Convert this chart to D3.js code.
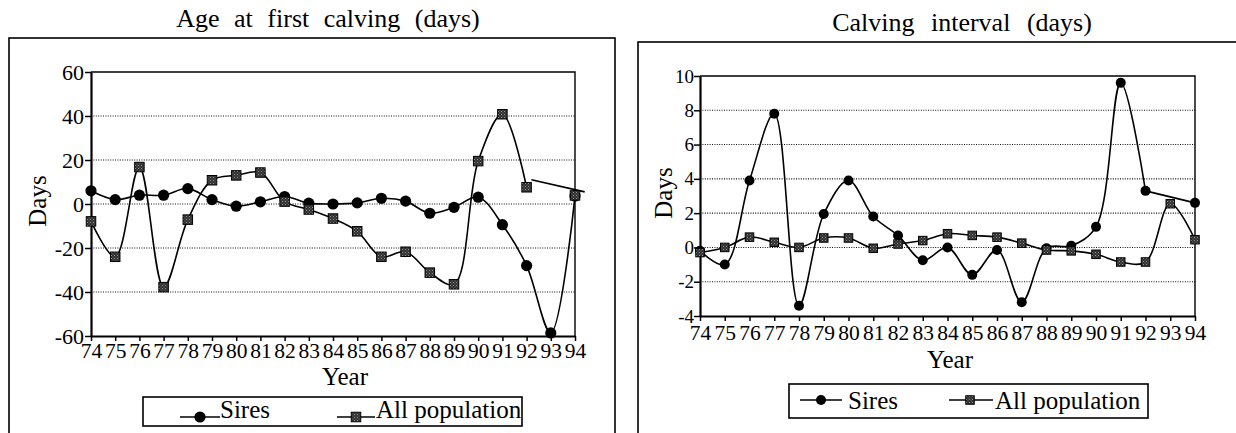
<!DOCTYPE html>
<html>
<head>
<meta charset="utf-8">
<script src="https://cdn.jsdelivr.net/npm/d3@7"></script>
<style>
  body { margin: 0; background: #fff; }
  svg, svg text { font-family: "Liberation Serif", "Times New Roman", serif; }
  svg { display: block; }
</style>
</head>
<body>
<svg id="chart" width="1236" height="433"></svg>
<script>
// years on the x axis (19xx)
const years = [74, 75, 76, 77, 78, 79, 80, 81, 82, 83, 84, 85, 86, 87, 88, 89, 90, 91, 92, 93, 94];

// Age at first calving (days)
const ageSires = [6, 2, 4, 4, 7, 2, -1, 1, 3.4, 0.4, 0, 0.5, 2.6, 1.3, -4.2, -1.5, 3.1, -9.4, -28, -58.6, 3.6];
const agePopulation = [-7.9, -24, 16.8, -37.8, -7.1, 10.8, 13, 14.3, 1.1, -2.5, -6.6, -12.4, -24, -21.7, -31.2, -36.5, 19.5, 40.8, 7.6, null, 3.9];
const ageBridge = [[92.2, 11], [94.4, 5.5]]; // straight segment drawn across the gap
const ageTicks = [-60, -40, -20, 0, 20, 40, 60];

// Calving interval (days)
const intSires = [-0.2, -1.0, 3.9, 7.8, -3.4, 1.95, 3.9, 1.8, 0.7, -0.75, 0, -1.6, -0.15, -3.2, -0.05, 0.1, 1.2, 9.6, 3.3, null, 2.6];
const intPopulation = [-0.3, 0, 0.6, 0.3, 0, 0.55, 0.55, -0.05, 0.2, 0.4, 0.8, 0.7, 0.6, 0.25, -0.15, -0.2, -0.4, -0.85, -0.85, 2.55, 0.45];
const intBridge = [[92, 3.3], [94, 2.6]];
const intTicks = [-4, -2, 0, 2, 4, 6, 8, 10];

const svg = d3.select("#chart");

/* stippled grey fill used by the "All population" squares */
const pat = svg.append("defs").append("pattern")
  .attr("id", "stipple")
  .attr("width", 3).attr("height", 3)
  .attr("patternUnits", "userSpaceOnUse");
pat.append("rect").attr("width", 3).attr("height", 3).attr("fill", "#2e2e2e");
pat.append("rect").attr("width", 1).attr("height", 1).attr("fill", "#9a9a9a");
pat.append("rect").attr("x", 1.5).attr("y", 1.5).attr("width", 1).attr("height", 1).attr("fill", "#7a7a7a");

const panels = [
  {
    title: "Age at first calving (days)", titleX: 328, titleY: 27, wordSpacing: 8,
    frame: { x: 9, y: 38, w: 606, h: 420 },
    left: 91, right: 575, top: 72, bottom: 336,
    domain: [-60, 60], ticks: ageTicks, yFont: 22, yPad: 1,
    xPad: 2, yearX: 345, yearY: 385, daysX: 46, daysY: 201,
    sires: ageSires, population: agePopulation, bridge: ageBridge,
    r: 5.6, sq: 9.5,
    legend: { x: 143, y: 397, w: 379, h: 29, lineY: 417, textY: 418,
      s: [180, 200, 220, 220], p: [337, 356, 375, 376] },
  },
  {
    title: "Calving interval (days)", titleX: 962, titleY: 31, wordSpacing: 10,
    frame: { x: 638, y: 42, w: 640, h: 420 },
    left: 700, right: 1195, top: 76, bottom: 316,
    domain: [-4, 10], ticks: intTicks, yFont: 19, yPad: 0,
    xPad: 4, yearX: 950, yearY: 368, daysX: 672, daysY: 193,
    sires: intSires, population: intPopulation, bridge: intBridge,
    r: 5, sq: 8.5,
    legend: { x: 789, y: 384, w: 359, h: 34, lineY: 400, textY: 409,
      s: [800, 821, 842, 848], p: [949, 970, 993, 995] },
  },
];

panels.forEach(drawPanel);

function drawPanel(p) {
  const g = svg.append("g");
  const x = d3.scaleLinear().domain([years[0], years[years.length - 1]]).range([p.left, p.right]);
  const y = d3.scaleLinear().domain(p.domain).range([p.bottom, p.top]);

  /* outer box and title */
  g.append("rect")
    .attr("x", p.frame.x).attr("y", p.frame.y)
    .attr("width", p.frame.w).attr("height", p.frame.h)
    .attr("fill", "none").attr("stroke", "#000").attr("stroke-width", 1.6);
  g.append("text")
    .attr("x", p.titleX).attr("y", p.titleY)
    .attr("text-anchor", "middle")
    .attr("font-size", 26)
    .style("word-spacing", p.wordSpacing + "px")
    .text(p.title);

  /* dotted gridlines */
  g.append("g").selectAll("line")
    .data(p.ticks.filter((t) => t > p.domain[0] && t < p.domain[1]))
    .join("line")
    .attr("x1", p.left).attr("x2", p.right)
    .attr("y1", (d) => y(d)).attr("y2", (d) => y(d))
    .attr("stroke", "#111").attr("stroke-width", 1.1)
    .attr("stroke-dasharray", "1,1.4");

  /* top + right edge of plot area */
  g.append("path")
    .attr("d", `M${x.range()[0]},${y(p.domain[1])}H${x.range()[1]}V${y(p.domain[0])}`)
    .attr("fill", "none").attr("stroke", "#000").attr("stroke-width", 1.4);

  /* axes */
  g.append("g")
    .attr("transform", `translate(${p.left},0)`)
    .call(d3.axisLeft(y).tickValues(p.ticks).tickFormat((d) => String(d))
      .tickSize(6).tickSizeOuter(0).tickPadding(p.yPad))
    .call((a) => a.select(".domain").attr("stroke-width", 2.2))
    .call((a) => a.selectAll(".tick line").attr("stroke-width", 1.5))
    .attr("font-size", p.yFont).attr("font-family", "Liberation Serif");

  g.append("g")
    .attr("transform", `translate(0,${p.bottom})`)
    .call(d3.axisBottom(x).tickValues(years).tickFormat((d) => String(d))
      .tickSize(5).tickSizeOuter(0).tickPadding(p.xPad))
    .call((a) => a.select(".domain").attr("stroke-width", 2.2))
    .call((a) => a.selectAll(".tick line").attr("stroke-width", 1.5))
    .attr("font-size", 21.5).attr("font-family", "Liberation Serif");

  g.append("text")
    .attr("x", p.yearX).attr("y", p.yearY)
    .attr("text-anchor", "middle").attr("font-size", 25)
    .text("Year");
  g.append("text")
    .attr("transform", `translate(${p.daysX},${p.daysY}) rotate(-90)`)
    .attr("text-anchor", "middle").attr("font-size", 25)
    .text("Days");

  /* series */
  const rows = (vals) => years.map((yr, i) => ({ year: yr, value: vals[i] }));
  const sires = rows(p.sires);
  const population = rows(p.population);
  const smooth = d3.line()
    .defined((d) => d.value != null)
    .x((d) => x(d.year)).y((d) => y(d.value))
    .curve(d3.curveCatmullRom.alpha(0.5));

  [population, sires].forEach((s) => {
    g.append("path").datum(s)
      .attr("d", smooth)
      .attr("fill", "none").attr("stroke", "#000").attr("stroke-width", 1.6);
  });
  g.append("path").datum(p.bridge)
    .attr("d", d3.line().x((d) => x(d[0])).y((d) => y(d[1])))
    .attr("fill", "none").attr("stroke", "#000").attr("stroke-width", 1.6);

  g.append("g").selectAll("circle")
    .data(sires.filter((d) => d.value != null))
    .join("circle")
    .attr("cx", (d) => x(d.year)).attr("cy", (d) => y(d.value))
    .attr("r", p.r).attr("fill", "#000");

  g.append("g").selectAll("rect")
    .data(population.filter((d) => d.value != null))
    .join("rect")
    .attr("x", (d) => x(d.year) - p.sq / 2).attr("y", (d) => y(d.value) - p.sq / 2)
    .attr("width", p.sq).attr("height", p.sq)
    .attr("fill", "url(#stipple)").attr("stroke", "#000").attr("stroke-width", 1);

  /* legend */
  const L = p.legend;
  const lg = g.append("g");
  lg.append("rect")
    .attr("x", L.x).attr("y", L.y).attr("width", L.w).attr("height", L.h)
    .attr("fill", "#fff").attr("stroke", "#000").attr("stroke-width", 1.6);
  lg.append("line")
    .attr("x1", L.s[0]).attr("x2", L.s[2]).attr("y1", L.lineY).attr("y2", L.lineY)
    .attr("stroke", "#000").attr("stroke-width", 1.4);
  lg.append("circle")
    .attr("cx", L.s[1]).attr("cy", L.lineY).attr("r", p.r).attr("fill", "#000");
  lg.append("text")
    .attr("x", L.s[3]).attr("y", L.textY).attr("font-size", 25).text("Sires");
  lg.append("line")
    .attr("x1", L.p[0]).attr("x2", L.p[2]).attr("y1", L.lineY).attr("y2", L.lineY)
    .attr("stroke", "#000").attr("stroke-width", 1.4);
  lg.append("rect")
    .attr("x", L.p[1] - p.sq / 2).attr("y", L.lineY - p.sq / 2)
    .attr("width", p.sq).attr("height", p.sq)
    .attr("fill", "url(#stipple)").attr("stroke", "#000").attr("stroke-width", 1);
  lg.append("text")
    .attr("x", L.p[3]).attr("y", L.textY).attr("font-size", 25).text("All population");
}
</script>
</body>
</html>
